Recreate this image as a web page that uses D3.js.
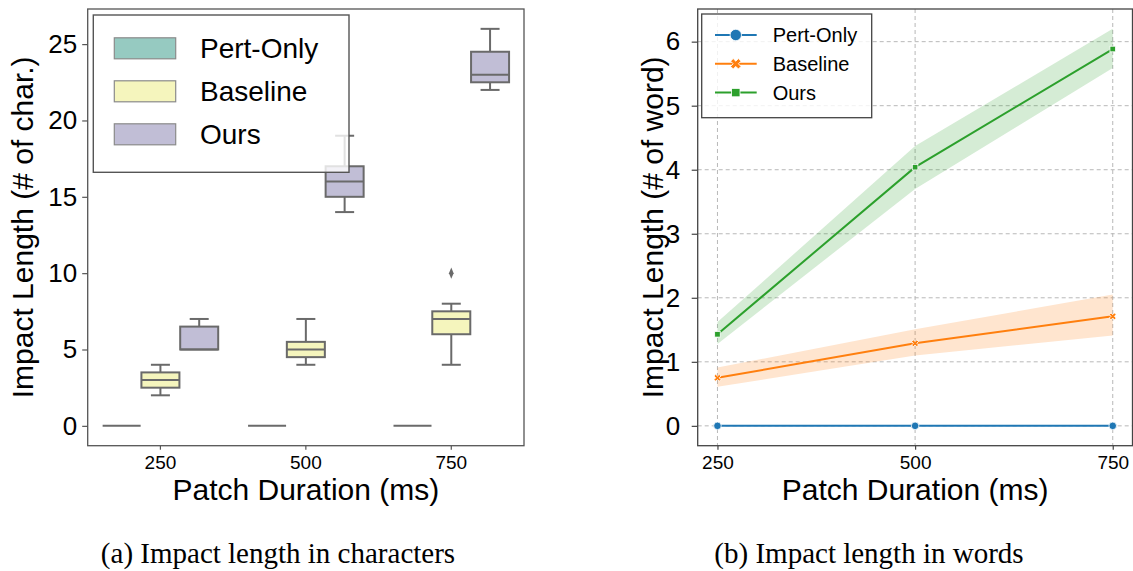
<!DOCTYPE html>
<html>
<head>
<meta charset="utf-8">
<script src="https://cdn.jsdelivr.net/npm/d3@7"></script>
<style>
  body { margin: 0; background: #fff; }
  svg { display: block; }
</style>
</head>
<body>
<svg id="fig" width="1133" height="571"></svg>
<script>
// ---- shared categories ----
const durations = ["250", "500", "750"];
const series = ["Pert-Only", "Baseline", "Ours"];

// ---- (a) box statistics per duration: [whiskerLow, q1, median, q3, whiskerHigh] ----
const pertOnlyBox = [[0, 0, 0, 0, 0], [0, 0, 0, 0, 0], [0, 0, 0, 0, 0]];
const baselineBox = [[2, 2.5, 3, 3.5, 4], [4, 4.5, 5, 5.5, 7], [4, 6, 7, 7.5, 8]];
const oursBox = [[5, 5, 5, 6.5, 7], [14, 15, 16, 17, 19], [22, 22.5, 23, 24.5, 26]];
const baselineOutliers = [[], [], [10]];
const charTicks = [0, 5, 10, 15, 20, 25];

// ---- (b) mean impact length in words with confidence band ----
const durationValues = [250, 500, 750];
const pertOnlyMean = [0, 0, 0];
const pertOnlyLow = [0, 0, 0];
const pertOnlyHigh = [0, 0, 0];
const baselineMean = [0.75, 1.29, 1.71];
const baselineLow = [0.61, 1.10, 1.41];
const baselineHigh = [0.91, 1.51, 2.05];
const oursMean = [1.43, 4.04, 5.885];
const oursLow = [1.28, 3.70, 5.59];
const oursHigh = [1.62, 4.37, 6.20];
const wordTicks = [0, 1, 2, 3, 4, 5, 6];

const boxFill = { "Pert-Only": "#96cac1", "Baseline": "#f5f5bd", "Ours": "#c1bed6" };
const lineColor = { "Pert-Only": "#1f77b4", "Baseline": "#ff7f0e", "Ours": "#2ca02c" };
const boxStroke = "#6a6a6a";
const SANS = "'Liberation Sans', Arial, Helvetica, sans-serif";
const SERIF = "'Liberation Serif', 'Times New Roman', serif";

const svg = d3.select("#fig");
svg.append("rect").attr("width", 1133).attr("height", 571).attr("fill", "#fff");

// =================== (a) box plot ===================
const A = { left: 87.7, right: 524, top: 9, bottom: 445.7 };
const xA = d3.scaleBand().domain(durations).range([A.left, A.right]).padding(0);
const hueA = d3.scaleBand().domain(series).range([-0.4 * xA.bandwidth(), 0.4 * xA.bandwidth()]);
const yA = d3.scaleLinear().domain([-1.3, 27.3]).range([A.bottom, A.top]);
const gA = svg.append("g");

const boxSets = { "Pert-Only": pertOnlyBox, "Baseline": baselineBox, "Ours": oursBox };
const outlierSets = { "Pert-Only": [[], [], []], "Baseline": baselineOutliers, "Ours": [[], [], []] };
const boxW = hueA.bandwidth() * 0.98;

series.forEach(s => {
  durations.forEach((d, i) => {
    const [lo, q1, med, q3, hi] = boxSets[s][i];
    const cx = xA(d) + xA.bandwidth() / 2 + hueA(s) + hueA.bandwidth() / 2;
    const g = gA.append("g").attr("stroke", boxStroke).attr("stroke-width", 2);
    // whiskers and caps
    if (hi > q3) {
      g.append("line").attr("x1", cx).attr("x2", cx).attr("y1", yA(q3)).attr("y2", yA(hi));
      g.append("line").attr("x1", cx - boxW / 4).attr("x2", cx + boxW / 4).attr("y1", yA(hi)).attr("y2", yA(hi));
    }
    if (lo < q1) {
      g.append("line").attr("x1", cx).attr("x2", cx).attr("y1", yA(q1)).attr("y2", yA(lo));
      g.append("line").attr("x1", cx - boxW / 4).attr("x2", cx + boxW / 4).attr("y1", yA(lo)).attr("y2", yA(lo));
    }
    // box
    g.append("rect")
      .attr("x", cx - boxW / 2).attr("width", boxW)
      .attr("y", yA(q3)).attr("height", Math.max(0, yA(q1) - yA(q3)))
      .attr("fill", boxFill[s]);
    // median
    g.append("line").attr("x1", cx - boxW / 2).attr("x2", cx + boxW / 2)
      .attr("y1", yA(med)).attr("y2", yA(med));
    // outliers
    outlierSets[s][i].forEach(v => {
      gA.append("path")
        .attr("d", d3.symbol(d3.symbolDiamond, 34)())
        .attr("transform", `translate(${cx},${yA(v)}) scale(0.75,1.05)`)
        .attr("fill", boxStroke);
    });
  });
});

// axes (a)
const axAY = gA.append("g").attr("transform", `translate(${A.left},0)`)
  .call(d3.axisLeft(yA).tickValues(charTicks).tickFormat(d3.format("d")).tickSize(5.5).tickPadding(5));
const axAX = gA.append("g").attr("transform", `translate(0,${A.bottom})`)
  .call(d3.axisBottom(xA).tickSize(4).tickPadding(5.8));
[axAY, axAX].forEach(ax => {
  ax.select(".domain").remove();
  ax.selectAll(".tick line").attr("stroke", "#555").attr("stroke-width", 1.2);
  ax.selectAll("text").attr("fill", "#000").attr("font-family", SANS);
});
axAY.selectAll("text").attr("font-size", 26);
axAX.selectAll("text").attr("font-size", 19);
gA.append("rect").attr("x", A.left).attr("y", A.top)
  .attr("width", A.right - A.left).attr("height", A.bottom - A.top)
  .attr("fill", "none").attr("stroke", "#555").attr("stroke-width", 1.3);

gA.append("text").attr("transform", `translate(33,${(A.top + A.bottom) / 2}) rotate(-90)`)
  .attr("text-anchor", "middle").attr("font-family", SANS).attr("font-size", 30)
  .text("Impact Length (# of char.)");
gA.append("text").attr("x", (A.left + A.right) / 2).attr("y", 500)
  .attr("text-anchor", "middle").attr("font-family", SANS).attr("font-size", 30)
  .text("Patch Duration (ms)");

// legend (a)
const legA = gA.append("g");
legA.append("rect").attr("x", 93.3).attr("y", 15).attr("width", 255.7).attr("height", 157.3)
  .attr("fill", "#fff").attr("fill-opacity", 0.8).attr("stroke", "#555").attr("stroke-width", 1.4);
series.forEach((s, i) => {
  const cy = 48.3 + i * 43;
  legA.append("rect").attr("x", 114.3).attr("y", cy - 10.5).attr("width", 61.4).attr("height", 21)
    .attr("fill", boxFill[s]).attr("stroke", "#8a8a8a").attr("stroke-width", 1.2);
  legA.append("text").attr("x", 200).attr("y", cy + 10).attr("font-family", SANS)
    .attr("font-size", 28).attr("fill", "#000").text(s);
});

// =================== (b) line plot ===================
const B = { left: 697.7, right: 1132.5, top: 9, bottom: 445.7 };
const xB = d3.scaleLinear().domain([225, 775]).range([B.left, B.right]);
const yB = d3.scaleLinear().domain([-0.31, 6.51]).range([B.bottom, B.top]);
const gB = svg.append("g");

// grid
const grid = gB.append("g").attr("stroke", "#b8b8b8").attr("stroke-width", 1).attr("stroke-dasharray", "4,3");
wordTicks.forEach(t => grid.append("line").attr("x1", B.left).attr("x2", B.right).attr("y1", yB(t)).attr("y2", yB(t)));
durationValues.forEach(t => grid.append("line").attr("y1", B.top).attr("y2", B.bottom).attr("x1", xB(t)).attr("x2", xB(t)));

const lineSets = {
  "Pert-Only": [pertOnlyMean, pertOnlyLow, pertOnlyHigh],
  "Baseline": [baselineMean, baselineLow, baselineHigh],
  "Ours": [oursMean, oursLow, oursHigh]
};

const area = d3.area().x(d => xB(d.x)).y0(d => yB(d.lo)).y1(d => yB(d.hi));
const line = d3.line().x(d => xB(d.x)).y(d => yB(d.y));

function marker(g, s, x, y, big) {
  const k = big ? 1.5 : 1;
  if (s === "Pert-Only") {
    g.append("circle").attr("cx", x).attr("cy", y).attr("r", 3.8 * k)
      .attr("fill", lineColor[s]).attr("stroke", "#fff").attr("stroke-width", 0.8);
  } else if (s === "Baseline") {
    g.append("path").attr("d", d3.symbol(d3.symbolCross, 30 * k * k)())
      .attr("transform", `translate(${x},${y}) rotate(45)`)
      .attr("fill", lineColor[s]).attr("stroke", "#fff").attr("stroke-width", 0.8);
  } else {
    const h = 2.8 * k;
    g.append("rect").attr("x", x - h).attr("y", y - h).attr("width", 2 * h).attr("height", 2 * h)
      .attr("fill", lineColor[s]).attr("stroke", "#fff").attr("stroke-width", 0.8);
  }
}

series.forEach(s => {
  const [m, lo, hi] = lineSets[s];
  const pts = durationValues.map((x, i) => ({ x, y: m[i], lo: lo[i], hi: hi[i] }));
  gB.append("path").datum(pts).attr("d", area).attr("fill", lineColor[s]).attr("fill-opacity", 0.2);
});
series.forEach(s => {
  const [m] = lineSets[s];
  const pts = durationValues.map((x, i) => ({ x, y: m[i] }));
  gB.append("path").datum(pts).attr("d", line).attr("fill", "none")
    .attr("stroke", lineColor[s]).attr("stroke-width", 2);
  pts.forEach(p => marker(gB, s, xB(p.x), yB(p.y), false));
});

// axes (b)
const axBY = gB.append("g").attr("transform", `translate(${B.left},0)`)
  .call(d3.axisLeft(yB).tickValues(wordTicks).tickFormat(d3.format("d")).tickSize(6).tickPadding(11.5));
const axBX = gB.append("g").attr("transform", `translate(0,${B.bottom})`)
  .call(d3.axisBottom(xB).tickValues(durationValues).tickFormat(d3.format("d")).tickSize(4).tickPadding(5.8));
[axBY, axBX].forEach(ax => {
  ax.select(".domain").remove();
  ax.selectAll(".tick line").attr("stroke", "#444").attr("stroke-width", 1.2);
  ax.selectAll("text").attr("fill", "#000").attr("font-family", SANS);
});
axBY.selectAll("text").attr("font-size", 26);
axBX.selectAll("text").attr("font-size", 19);
gB.append("rect").attr("x", B.left).attr("y", B.top)
  .attr("width", B.right - B.left).attr("height", B.bottom - B.top)
  .attr("fill", "none").attr("stroke", "#444").attr("stroke-width", 1.3);

gB.append("text").attr("transform", `translate(663,${(B.top + B.bottom) / 2}) rotate(-90)`)
  .attr("text-anchor", "middle").attr("font-family", SANS).attr("font-size", 30)
  .text("Impact Length (# of word)");
gB.append("text").attr("x", (B.left + B.right) / 2).attr("y", 500)
  .attr("text-anchor", "middle").attr("font-family", SANS).attr("font-size", 30)
  .text("Patch Duration (ms)");

// legend (b)
const legB = gB.append("g");
legB.append("rect").attr("x", 701.7).attr("y", 14).attr("width", 170).attr("height", 103.7)
  .attr("fill", "#fff").attr("fill-opacity", 0.8).attr("stroke", "#444").attr("stroke-width", 1.3);
series.forEach((s, i) => {
  const cy = 35 + i * 28.8;
  legB.append("line").attr("x1", 715).attr("x2", 756.7).attr("y1", cy).attr("y2", cy)
    .attr("stroke", lineColor[s]).attr("stroke-width", 2);
  marker(legB, s, 735.8, cy, true);
  legB.append("text").attr("x", 772.7).attr("y", cy + 7).attr("font-family", SANS)
    .attr("font-size", 20).attr("fill", "#000").text(s);
});

// captions
svg.append("text").attr("x", 278).attr("y", 563).attr("text-anchor", "middle")
  .attr("font-family", SERIF).attr("font-size", 29).attr("fill", "#000")
  .text("(a) Impact length in characters");
svg.append("text").attr("x", 869).attr("y", 563).attr("text-anchor", "middle")
  .attr("font-family", SERIF).attr("font-size", 29).attr("fill", "#000")
  .text("(b) Impact length in words");
</script>
</body>
</html>
